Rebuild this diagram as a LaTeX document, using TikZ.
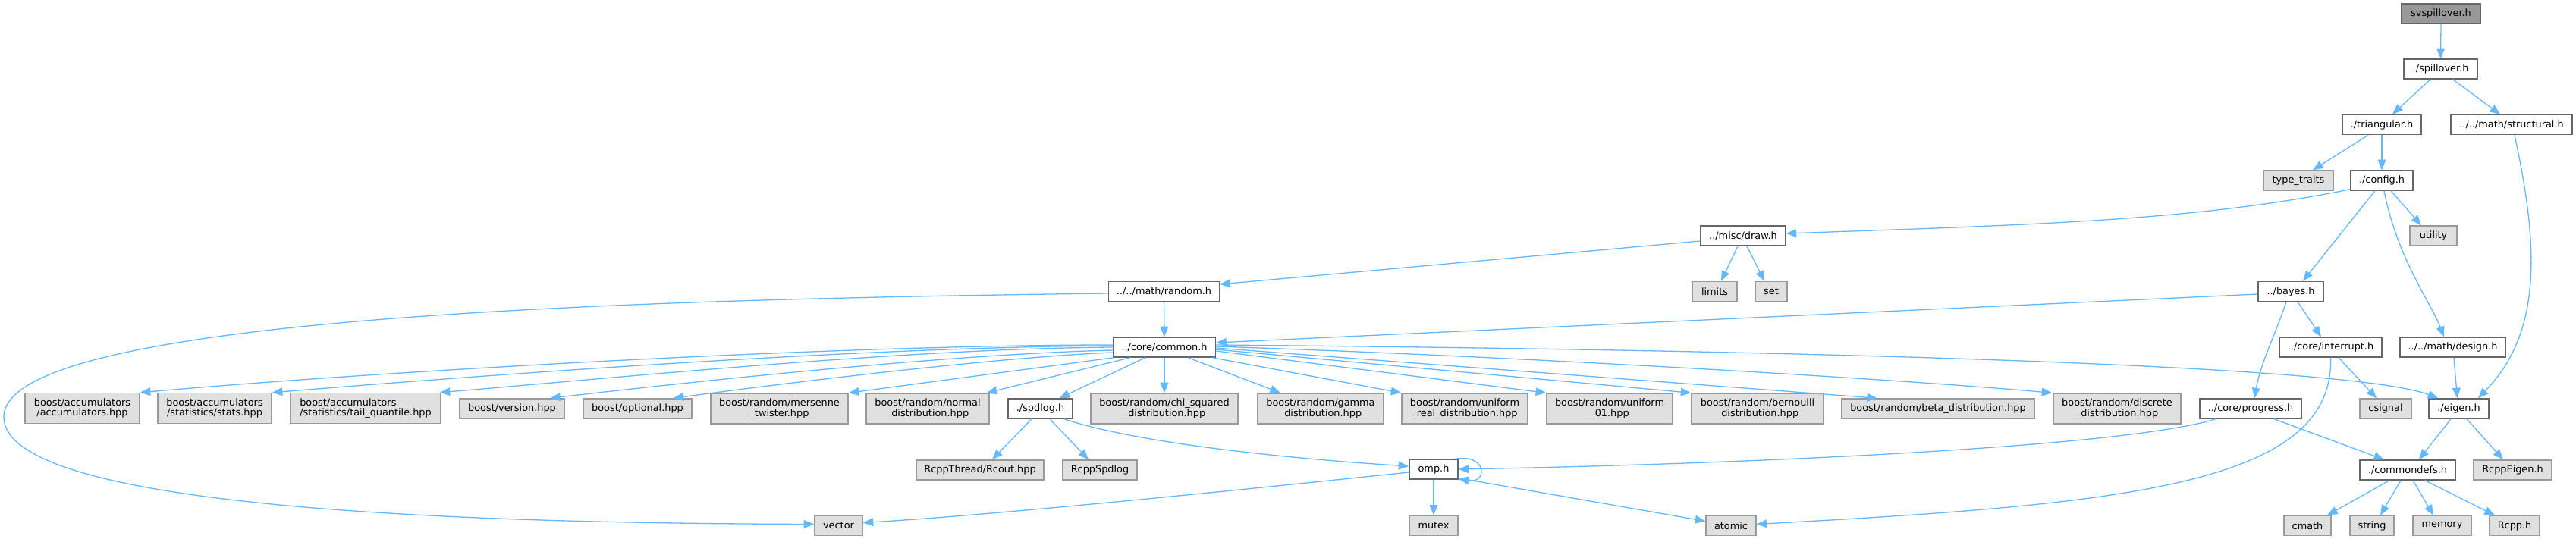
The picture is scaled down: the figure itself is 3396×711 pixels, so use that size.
\documentclass[tikz,border=0pt]{standalone}
\usepackage{fontspec}
\setmainfont{DejaVu Sans}
\usetikzlibrary{arrows.meta,calc}
\definecolor{edgeblue}{RGB}{99,184,255}
\definecolor{nodegray}{RGB}{224,224,224}
\definecolor{bordergray}{RGB}{153,153,153}
\definecolor{borderdark}{RGB}{102,102,102}
\definecolor{maingray}{RGB}{153,153,153}
\begin{document}
\begin{tikzpicture}[x=0.5pt,y=-0.5pt,
  base/.style={rectangle, inner sep=0pt, line width=0.7pt, font=\fontsize{6.43pt}{6.65pt}\selectfont, align=center},
  wbox/.style={base, draw=borderdark, fill=white},
  gbox/.style={base, draw=bordergray, fill=nodegray},
  mbox/.style={base, draw=borderdark, fill=maingray},
  sz/.style 2 args={minimum width=#1, minimum height=#2},
  edge/.style={draw=edgeblue, line width=0.65pt, -{Triangle[length=6.8pt,width=5.4pt]}},
]
\fill[white] (0,0) rectangle (3396,711);
\useasboundingbox (0,0) rectangle (3396,711);

% nodes
\node[mbox, sz={52pt}{13pt}] (sv) at (3218,18) {svspillover.h};
\node[wbox, sz={48.5pt}{13pt}] (spill) at (3217.5,91) {./spillover.h};
\node[wbox, sz={52pt}{13pt}] (tri) at (3140,164.5) {./triangular.h};
\node[wbox, sz={80pt}{13pt}] (struct) at (3311,164.5) {../../math/structural.h};
\node[gbox, sz={46pt}{13pt}] (tt) at (3030,238) {type\_traits};
\node[wbox, sz={41pt}{13pt}] (cfg) at (3140,238) {./config.h};
\node[gbox, sz={31pt}{13pt}] (util) at (3208,311) {utility};
\node[wbox, sz={56pt}{13pt}] (draw) at (2298,311) {../misc/draw.h};
\node[gbox, sz={29.5pt}{13pt}] (limits) at (2260.5,384.5) {limits};
\node[gbox, sz={21pt}{13pt}] (set) at (2335,384.5) {set};
\node[wbox, sz={73pt}{13pt}] (random) at (1534.5,384.5) {../../math/random.h};
\node[wbox, sz={43pt}{13pt}] (bayes) at (3020,384.5) {../bayes.h};
\node[wbox, sz={67.5pt}{13pt}] (common) at (1535,458) {../core/common.h};
\node[wbox, sz={67.5pt}{13pt}] (interrupt) at (3072.5,458) {../core/interrupt.h};
\node[wbox, sz={69.5pt}{13pt}] (design) at (3233.5,458) {../../math/design.h};

\node[gbox, sz={75.5pt}{20pt}] (acc) at (108.5,538.5) {boost/accumulators\\/accumulators.hpp};
\node[gbox, sz={75pt}{20pt}] (stats) at (283,538.5) {boost/accumulators\\/statistics/stats.hpp};
\node[gbox, sz={99pt}{20pt}, align=left] (tail) at (482,538.5) {boost/accumulators\\/statistics/tail\_quantile.hpp};
\node[gbox, sz={69pt}{13pt}] (version) at (675,539) {boost/version.hpp};
\node[gbox, sz={71.5pt}{13pt}] (optional) at (840.5,539) {boost/optional.hpp};
\node[gbox, sz={90.5pt}{20pt}] (mersenne) at (1027.5,539) {boost/random/mersenne\\\_twister.hpp};
\node[gbox, sz={81pt}{20pt}] (normal) at (1223,539) {boost/random/normal\\\_distribution.hpp};
\node[wbox, sz={42.5pt}{13pt}] (spdlog) at (1371.5,539) {./spdlog.h};
\node[gbox, sz={97pt}{20pt}] (chisq) at (1535,539) {boost/random/chi\_squared\\\_distribution.hpp};
\node[gbox, sz={83pt}{20pt}] (gamma) at (1741,539) {boost/random/gamma\\\_distribution.hpp};
\node[gbox, sz={83pt}{20pt}] (unireal) at (1931,539) {boost/random/uniform\\\_real\_distribution.hpp};
\node[gbox, sz={83pt}{20pt}] (uni01) at (2122,539) {boost/random/uniform\\\_01.hpp};
\node[gbox, sz={87pt}{20pt}] (bern) at (2317,539) {boost/random/bernoulli\\\_distribution.hpp};
\node[gbox, sz={127pt}{13pt}] (beta) at (2555,539) {boost/random/beta\_distribution.hpp};
\node[gbox, sz={84pt}{20pt}] (discrete) at (2791,539) {boost/random/discrete\\\_distribution.hpp};
\node[wbox, sz={67pt}{13pt}] (progress) at (2967,539) {../core/progress.h};
\node[gbox, sz={34pt}{13pt}] (csignal) at (3145,539) {csignal};
\node[wbox, sz={39.5pt}{13pt}] (eigen) at (3241.5,539) {./eigen.h};

\node[gbox, sz={84pt}{13pt}] (rcout) at (1292,620) {RcppThread/Rcout.hpp};
\node[gbox, sz={49pt}{13pt}] (rspd) at (1450,620) {RcppSpdlog};
\node[wbox, sz={32pt}{13pt}] (omp) at (1890,619) {omp.h};
\node[wbox, sz={63pt}{13pt}] (cdefs) at (3174,620) {./commondefs.h};
\node[gbox, sz={51.5pt}{13pt}] (reigen) at (3312.5,620) {RcppEigen.h};

\node[gbox, sz={31.5pt}{13pt}] (vector) at (1105.5,693.5) {vector};
\node[gbox, sz={32pt}{13pt}] (mutex) at (1890,693.5) {mutex};
\node[gbox, sz={33pt}{13pt}] (atomic) at (2282,693.5) {atomic};
\node[gbox, sz={31pt}{13pt}] (cmath) at (3042,693.5) {cmath};
\node[gbox, sz={29pt}{13pt}] (string) at (3127,693.5) {string};
\node[gbox, sz={38.5pt}{13pt}] (memory) at (3219.5,693.5) {memory};
\node[gbox, sz={33pt}{13pt}] (rcpph) at (3315,693.5) {Rcpp.h};

\coordinate (loopL) at (5,550);

% edges
\draw[edge] (sv.south) -- (spill.north);
\draw[edge] ($(spill.south)+(-13.5,0)$) -- ($(tri.north)+(14,0)$);
\draw[edge] ($(spill.south)+(16,0)$) -- ($(struct.north)+(-15,0)$);
\draw[edge] ($(tri.south)+(-18,0)$) -- ($(tt.north)+(19,0)$);
\draw[edge] (tri.south) -- (cfg.north);
\draw[edge] ($(struct.south)+(4,0)$) .. controls (3348,330) and (3350,440) .. ($(eigen.north)+(25.5,0)$);
\draw[edge] ($(cfg.south)+(12,0)$) -- ($(util.north)+(-16,0)$);
\draw[edge] ($(cfg.south west)+(0,-2)$) .. controls (2900,290) and (2700,296) .. ($(draw.east)+(0,-3)$);
\draw[edge] ($(cfg.south)+(-9,0)$) -- ($(bayes.north)+(16,0)$);
\draw[edge] ($(cfg.south)+(3,0)$) .. controls (3160,340) and (3205,400) .. ($(design.north)+(-11.5,0)$);
\draw[edge] ($(draw.west)+(0,7)$) -- ($(random.east)+(0,-9.5)$);
\draw[edge] ($(draw.south)+(-7,0)$) -- ($(limits.north)+(8.5,0)$);
\draw[edge] ($(draw.south)+(5,0)$) -- ($(set.north)+(-9,0)$);
\draw[edge] (random.south) -- (common.north);
\draw[edge] ($(random.west)+(0,2.5)$) .. controls (800,395) and (5,420) .. (loopL) .. controls (5,670) and (600,690) .. ($(vector.west)+(0,-2)$);

\draw[edge] ($(common.west)+(0,-3)$) .. controls (1100,455) and (500,490) .. (acc.north east);
\draw[edge] ($(common.west)+(0,-2)$) .. controls (1150,458) and (700,490) .. (stats.north east);
\draw[edge] (common.west) .. controls (1200,460) and (850,495) .. ($(tail.north east)+(-2,0)$);
\draw[edge] ($(common.west)+(0,4)$) .. controls (1250,467) and (900,505) .. ($(version.north)+(50,0)$);
\draw[edge] ($(common.west)+(0,7)$) .. controls (1300,472) and (1000,510) .. ($(optional.north)+(47,0)$);
\draw[edge] ($(common.south west)+(2,0)$) -- (mersenne.north east);
\draw[edge] ($(common.south)+(-45,0)$) -- ($(normal.north east)+(-4,0)$);
\draw[edge] ($(common.south)+(-25,0)$) -- ($(spdlog.north)+(25,0)$);
\draw[edge] (common.south) -- (chisq.north);
\draw[edge] ($(common.south)+(31,0)$) -- ($(gamma.north)+(-53,0)$);
\draw[edge] ($(common.south east)+(-5,0)$) -- (unireal.north west);
\draw[edge] ($(common.east)+(0,5)$) -- (uni01.north west);
\draw[edge] ($(common.east)+(0,3)$) -- (bern.north west);
\draw[edge] ($(common.east)+(0,1)$) -- ($(beta.north)+(-80,0)$);
\draw[edge] ($(common.east)+(0,-1)$) .. controls (2000,470) and (2500,500) .. ($(discrete.north west)+(-1,0)$);
\draw[edge] ($(common.east)+(0,-3)$) .. controls (2400,462) and (3100,482) .. ($(eigen.north west)+(13,0)$);
\draw[edge] ($(bayes.west)+(0,3.5)$) -- ($(common.east)+(0,-6)$);

\draw[edge] ($(bayes.south)+(9,0)$) -- ($(interrupt.north)+(-12.5,0)$);
\draw[edge] ($(bayes.south)+(-6,0)$) .. controls (3000,440) and (2980,480) .. ($(progress.north)+(5,0)$);
\draw[edge] ($(interrupt.south)+(10.5,0)$) -- ($(csignal.north)+(-12,0)$);
\draw[edge] (interrupt.south) .. controls (3078,640) and (2800,665) .. ($(atomic.east)+(0,-2)$);
\draw[edge] ($(design.south)+(1.5,0)$) -- ($(eigen.north)+(-2,0)$);
\draw[edge] ($(progress.south)+(31,0)$) -- ($(cdefs.north)+(-31,0)$);
\draw[edge] ($(progress.south west)+(22,0)$) .. controls (2800,590) and (2300,612) .. ($(omp.east)+(0,0)$);
\draw[edge] ($(eigen.south)+(-10.5,0)$) -- ($(cdefs.north)+(15,0)$);
\draw[edge] ($(eigen.south)+(10.5,0)$) -- ($(reigen.north)+(-12.5,0)$);
\draw[edge] ($(cdefs.south)+(-24,0)$) -- ($(cmath.north)+(26,0)$);
\draw[edge] ($(cdefs.south)+(-9,0)$) -- ($(string.north)+(11,0)$);
\draw[edge] ($(cdefs.south)+(7,0)$) -- ($(memory.north)+(-11.5,0)$);
\draw[edge] ($(cdefs.south)+(23,0)$) -- ($(rcpph.north)+(-26,0)$);

\draw[edge] ($(spdlog.south)+(-11.5,0)$) -- ($(rcout.north)+(16,0)$);
\draw[edge] ($(spdlog.south)+(12.5,0)$) -- ($(rspd.north)+(-15,0)$);
\draw[edge] ($(spdlog.south east)+(-12,0)$) .. controls (1500,585) and (1700,605) .. ($(omp.west)+(0,-4)$);
\draw[edge] ($(omp.west)+(0,4)$) .. controls (1600,650) and (1300,680) .. ($(vector.east)+(0,-4)$);
\draw[edge] (omp.south) -- (mutex.north);
\draw[edge] ($(omp.south east)+(0,-2)$) -- ($(atomic.west)+(0,-6)$);
\draw[edge] ($(omp.north east)+(-4,0)$) .. controls (1960,598) and (1962,638) .. ($(omp.south east)+(0,-1)$);
\end{tikzpicture}
\end{document}
